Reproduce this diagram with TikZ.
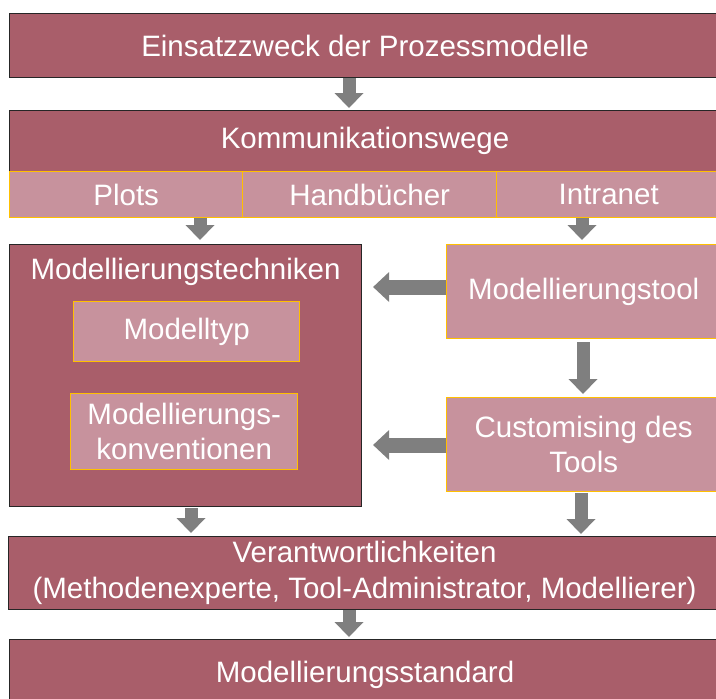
\documentclass[tikz,border=0pt]{standalone}
\usepackage{fontspec}
\setmainfont{Liberation Sans}
\usetikzlibrary{arrows.meta}
\definecolor{darkrose}{HTML}{A95E6A}
\definecolor{lightrose}{HTML}{C7929D}
\definecolor{orangeb}{HTML}{FFC000}
\definecolor{arrowgray}{HTML}{7F7F7F}
\begin{document}
\begin{tikzpicture}[x=1pt,y=-1pt,
  txt/.style={text=white, font=\fontsize{29.5}{35.5}\selectfont, align=center},
  darkbox/.style={txt, draw=black!85, line width=1.1pt, fill=darkrose, anchor=north west, inner sep=0pt},
  lightbox/.style={txt, draw=orangeb, line width=1.4pt, fill=lightrose, anchor=north west, inner sep=0pt},
  vblk/.style={draw=arrowgray, line width=13pt, -{Triangle[width=29pt,length=15pt,line width=0pt]}},
  hblk/.style={draw=arrowgray, line width=15pt, -{Triangle[width=30pt,length=16pt,line width=0pt]}}]
\useasboundingbox (0,0) rectangle (716,699);
\clip (0,0) rectangle (716,699);

% boxes
\node[darkbox, minimum width=711pt, minimum height=64pt] (top) at (9,13) {Einsatzzweck der Prozessmodelle};
\node[darkbox, minimum width=711pt, minimum height=61pt] (komm) at (9,110) {Kommunikationswege};
\node[lightbox, minimum width=233pt, minimum height=46pt] (plots) at (9,171) {Plots};
\node[lightbox, minimum width=254pt, minimum height=46pt] (hand) at (242,171) {Handbücher};
\node[lightbox, minimum width=224pt, minimum height=46pt] (intra) at (496,171) {Intranet};

\node[darkbox, minimum width=352pt, minimum height=262pt,
  label={[txt, anchor=north, inner sep=0pt, yshift=-14pt]north:Modellierungstechniken}] (tech) at (9,244) {};
\node[lightbox, minimum width=226pt, minimum height=60pt] (typ) at (73,301) {Modelltyp};
\node[lightbox, minimum width=227pt, minimum height=76pt] (konv) at (70,393) {Modellierungs-\\konventionen};

\node[lightbox, minimum width=274pt, minimum height=94pt] (tool) at (446,244) {Modellierungstool};
\node[lightbox, minimum width=274pt, minimum height=94pt] (cust) at (446,397) {Customising des\\Tools};

\node[darkbox, minimum width=712pt, minimum height=73pt] (verant) at (8,536) {Verantwortlichkeiten\\(Methodenexperte, Tool-Administrator, Modellierer)};
\node[darkbox, minimum width=711pt, minimum height=71pt] (std) at (9,639) {Modellierungsstandard};

% arrow positions
\coordinate (xa) at (349,0);
\coordinate (xb) at (200,0);
\coordinate (xc) at (582,0);
\coordinate (xd) at (583,0);
\coordinate (xe) at (191,0);
\coordinate (xf) at (581,0);
\coordinate (ya) at (0,287);
\coordinate (yb) at (0,445);

% arrows
\draw[vblk, shorten >=2pt] (top.south -| xa) -- (komm.north -| xa);
\draw[vblk, shorten >=4pt] (plots.south -| xb) -- (tech.north -| xb);
\draw[vblk, shorten >=4pt] (intra.south -| xc) -- (tool.north -| xc);
\draw[vblk, shorten <=3pt, shorten >=3pt] (tool.south -| xd) -- (cust.north -| xd);
\draw[hblk, shorten >=11pt] (tool.west |- ya) -- (tech.east |- ya);
\draw[hblk, shorten >=11pt] (cust.west |- yb) -- (tech.east |- yb);
\draw[vblk, shorten <=1pt, shorten >=3pt] (tech.south -| xe) -- (verant.north -| xe);
\draw[vblk, shorten <=1pt, shorten >=2pt] (cust.south -| xf) -- (verant.north -| xf);
\draw[vblk, shorten >=2pt] (verant.south -| xa) -- (std.north -| xa);
\end{tikzpicture}
\end{document}
